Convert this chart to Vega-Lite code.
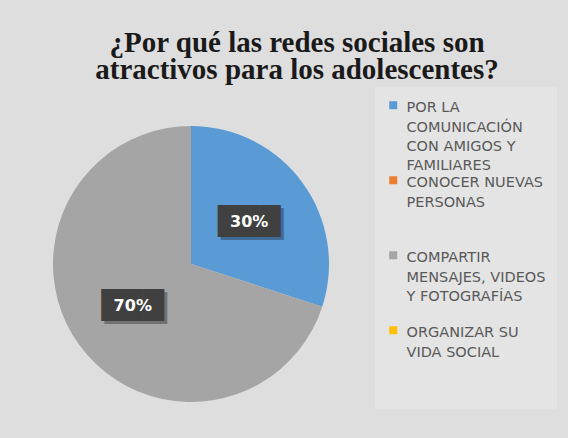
{
  "$schema": "https://vega.github.io/schema/vega-lite/v6.json",
  "width": 360,
  "height": 336,
  "autosize": {"type": "none"},
  "padding": {"left": 11, "top": 96, "right": 197, "bottom": 6},
  "background": "#dedede",
  "title": {
    "text": ["¿Por qué las redes sociales son", "atractivos  para  los adolescentes?"],
    "font": "Liberation Serif",
    "fontSize": 29,
    "fontWeight": "bold",
    "color": "#1a1a1a",
    "anchor": "middle",
    "frame": "group",
    "dx": 106,
    "offset": 2,
    "lineHeight": 27
  },
  "config": {
    "view": {"stroke": null},
    "style": {"guide-label": {"lineHeight": 19.3, "dy": -4}}
  },
  "data": {
    "values": [
      {"categoria": "POR LA COMUNICACIÓN CON AMIGOS Y FAMILIARES", "porcentaje": 30, "orden": 1, "etiqueta": "30%"},
      {"categoria": "CONOCER NUEVAS PERSONAS", "porcentaje": 0, "orden": 2, "etiqueta": "0%"},
      {"categoria": "COMPARTIR MENSAJES, VIDEOS Y FOTOGRAFÍAS", "porcentaje": 70, "orden": 3, "etiqueta": "70%"},
      {"categoria": "ORGANIZAR SU VIDA SOCIAL", "porcentaje": 0, "orden": 4, "etiqueta": "0%"}
    ]
  },
  "encoding": {
    "theta": {"field": "porcentaje", "type": "quantitative", "stack": true},
    "order": {"field": "orden", "type": "quantitative"}
  },
  "layer": [
    {
      "mark": {"type": "arc", "outerRadius": 138},
      "encoding": {
        "color": {
          "field": "categoria",
          "type": "nominal",
          "scale": {
            "domain": ["POR LA COMUNICACIÓN CON AMIGOS Y FAMILIARES", "CONOCER NUEVAS PERSONAS", "COMPARTIR MENSAJES, VIDEOS Y FOTOGRAFÍAS", "ORGANIZAR SU VIDA SOCIAL"],
            "range": ["#5B9BD5", "#ED7D31", "#A5A5A5", "#FFC000"]
          },
          "legend": {
            "title": null,
            "orient": "none",
            "legendX": 364,
            "legendY": -9,
            "padding": 11,
            "fillColor": "#e4e4e4",
            "symbolType": "square",
            "symbolSize": 64,
            "symbolStrokeWidth": 0,
            "symbolOpacity": 1,
            "labelFont": "DejaVu Sans",
            "labelFontSize": 14.5,
            "labelColor": "#595959",
            "labelLimit": 200,
            "labelBaseline": "top",
            "labelOffset": 6,
            "gridAlign": "all",
            "rowPadding": 0,
            "labelExpr": "datum.label == 'POR LA COMUNICACIÓN CON AMIGOS Y FAMILIARES' ? ['POR LA', 'COMUNICACIÓN', 'CON AMIGOS Y', 'FAMILIARES'] : datum.label == 'CONOCER NUEVAS PERSONAS' ? ['CONOCER NUEVAS', 'PERSONAS'] : datum.label == 'COMPARTIR MENSAJES, VIDEOS Y FOTOGRAFÍAS' ? ['COMPARTIR', 'MENSAJES, VIDEOS', 'Y FOTOGRAFÍAS'] : ['ORGANIZAR SU', 'VIDA SOCIAL', ' ', ' ']"
          }
        }
      }
    },
    {
      "transform": [{"filter": "datum.porcentaje > 0"}],
      "mark": {"type": "text", "radius": 72, "text": "███", "font": "DejaVu Sans", "fontSize": 27, "color": "#000000", "opacity": 0.3, "dx": 3, "dy": 3}
    },
    {
      "transform": [{"filter": "datum.porcentaje > 0"}],
      "mark": {"type": "text", "radius": 72, "text": "███", "font": "DejaVu Sans", "fontSize": 27, "color": "#404040"}
    },
    {
      "transform": [{"filter": "datum.porcentaje > 0"}],
      "mark": {"type": "text", "radius": 72, "font": "DejaVu Sans", "fontSize": 16, "fontWeight": "bold", "color": "#ffffff"},
      "encoding": {"text": {"field": "etiqueta", "type": "nominal"}}
    }
  ]
}
